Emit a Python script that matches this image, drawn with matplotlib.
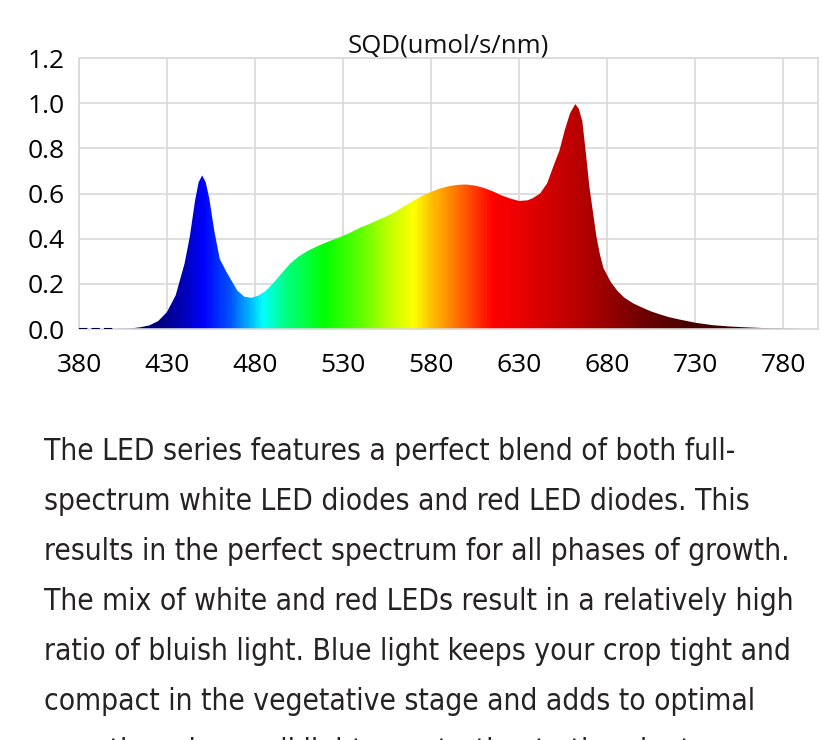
import matplotlib
matplotlib.use("Agg")
import matplotlib.pyplot as plt
import numpy as np
from matplotlib.colors import LinearSegmentedColormap

# spectrum (nm, umol/s/nm)
wavelength = [400, 410, 415, 420, 425, 430, 435, 440, 443, 446, 448, 450, 452, 454, 457,
              460, 464, 467, 470, 474, 478, 482, 486, 490, 495, 500, 505, 510, 515, 520,
              525, 530, 535, 540, 545, 550, 555, 560, 565, 570, 575, 580, 585, 590, 595,
              600, 605, 610, 615, 620, 625, 630, 635, 638, 642, 646, 650, 653, 656, 659,
              662, 664, 666, 668, 670, 672, 674, 676, 678, 682, 686, 690, 695, 700, 705,
              710, 715, 720, 730, 740, 750, 760, 770, 780, 790]
sqd = [0.0, 0.003, 0.008, 0.016, 0.035, 0.075, 0.15, 0.29, 0.41, 0.57, 0.65, 0.68, 0.65, 0.58, 0.43,
       0.31, 0.25, 0.21, 0.17, 0.143, 0.138, 0.148, 0.168, 0.2, 0.245, 0.29, 0.322, 0.346, 0.365, 0.382,
       0.397, 0.412, 0.43, 0.45, 0.465, 0.483, 0.5, 0.52, 0.545, 0.568, 0.59, 0.607, 0.622, 0.632, 0.638,
       0.64, 0.635, 0.625, 0.61, 0.592, 0.578, 0.567, 0.57, 0.58, 0.6, 0.645, 0.73, 0.79, 0.88, 0.955,
       0.996, 0.975, 0.92, 0.78, 0.63, 0.52, 0.41, 0.33, 0.27, 0.21, 0.168, 0.138, 0.113, 0.095, 0.078,
       0.065, 0.053, 0.044, 0.028, 0.017, 0.011, 0.007, 0.004, 0.002, 0.0]

x_ticks = [380, 430, 480, 530, 580, 630, 680, 730, 780]
y_ticks = [0.0, 0.2, 0.4, 0.6, 0.8, 1.0, 1.2]
title = "SQD(umol/s/nm)"

paragraph = [
    "The LED series features a perfect blend of both full-",
    "spectrum white LED diodes and red LED diodes. This",
    "results in the perfect spectrum for all phases of growth.",
    "The mix of white and red LEDs result in a relatively high",
    "ratio of bluish light. Blue light keeps your crop tight and",
    "compact in the vegetative stage and adds to optimal",
    "growth and overall light penetration to the plant",
]

# colour stops along the wavelength axis
XMIN, XMAX = 380, 800
stops = [(380, "#000050"), (425, "#000080"), (440, "#0000c0"), (450, "#0000ff"),
         (465, "#0050ff"), (476, "#00b4ff"), (484, "#00ffff"), (495, "#00ff90"),
         (519, "#00ff00"), (540, "#60ff00"), (556, "#c0ff00"), (570, "#ffff00"),
         (580, "#ffc000"), (592, "#ff8000"), (615, "#ff0000"), (640, "#dd0000"),
         (662, "#bb0000"), (680, "#990000"), (700, "#700000"), (725, "#4a0000"),
         (800, "#200000")]
cmap = LinearSegmentedColormap.from_list(
    "spec", [((w - XMIN) / (XMAX - XMIN), c) for w, c in stops])

fig = plt.figure(figsize=(8.4, 7.4), dpi=100)
ax = fig.add_axes([0.094, 0.5554, 0.880, 0.3662])

ax.set_xlim(XMIN, XMAX)
ax.set_ylim(0, 1.2)
ax.set_xticks(x_ticks)
ax.set_yticks(y_ticks)
ax.set_xticklabels([str(t) for t in x_ticks])
ax.set_yticklabels([f"{t:.1f}" for t in y_ticks])
ax.tick_params(length=0, labelsize=19)
ax.tick_params(axis="x", pad=17)
ax.tick_params(axis="y", pad=10)
for lab in ax.get_xticklabels() + ax.get_yticklabels():
    lab.set_family("Open Sans")
ax.grid(True, color="#d8d8d8", lw=1.2)
ax.set_axisbelow(True)
for s in ax.spines.values():
    s.set_color("#d8d8d8")
    s.set_linewidth(1.2)

poly = ax.fill_between(wavelength, sqd, 0, color="none", lw=0)
grad = np.linspace(0, 1, 800).reshape(1, -1)
im = ax.imshow(grad, cmap=cmap, aspect="auto", extent=[XMIN, XMAX, 0, 1.2],
               interpolation="bilinear", zorder=2)
path = poly.get_paths()[0]
im.set_clip_path(path, transform=ax.transData)
ax.plot([380, 400], [0.0, 0.0], color="#000040", lw=1.5, ls=(0, (4, 2)), zorder=3)

fig.text(0.534, 0.929, title, ha="center", va="baseline", fontsize=18.5,
         family="Open Sans", color="#111111")

for i, line in enumerate(paragraph):
    fig.text(0.0524, 1 - (460 + 50 * i) / 740, line, ha="left", va="baseline",
             fontsize=21.4, family="DejaVu Sans", stretch="condensed",
             color="#252223")

fig.savefig("out.png", dpi=100)
